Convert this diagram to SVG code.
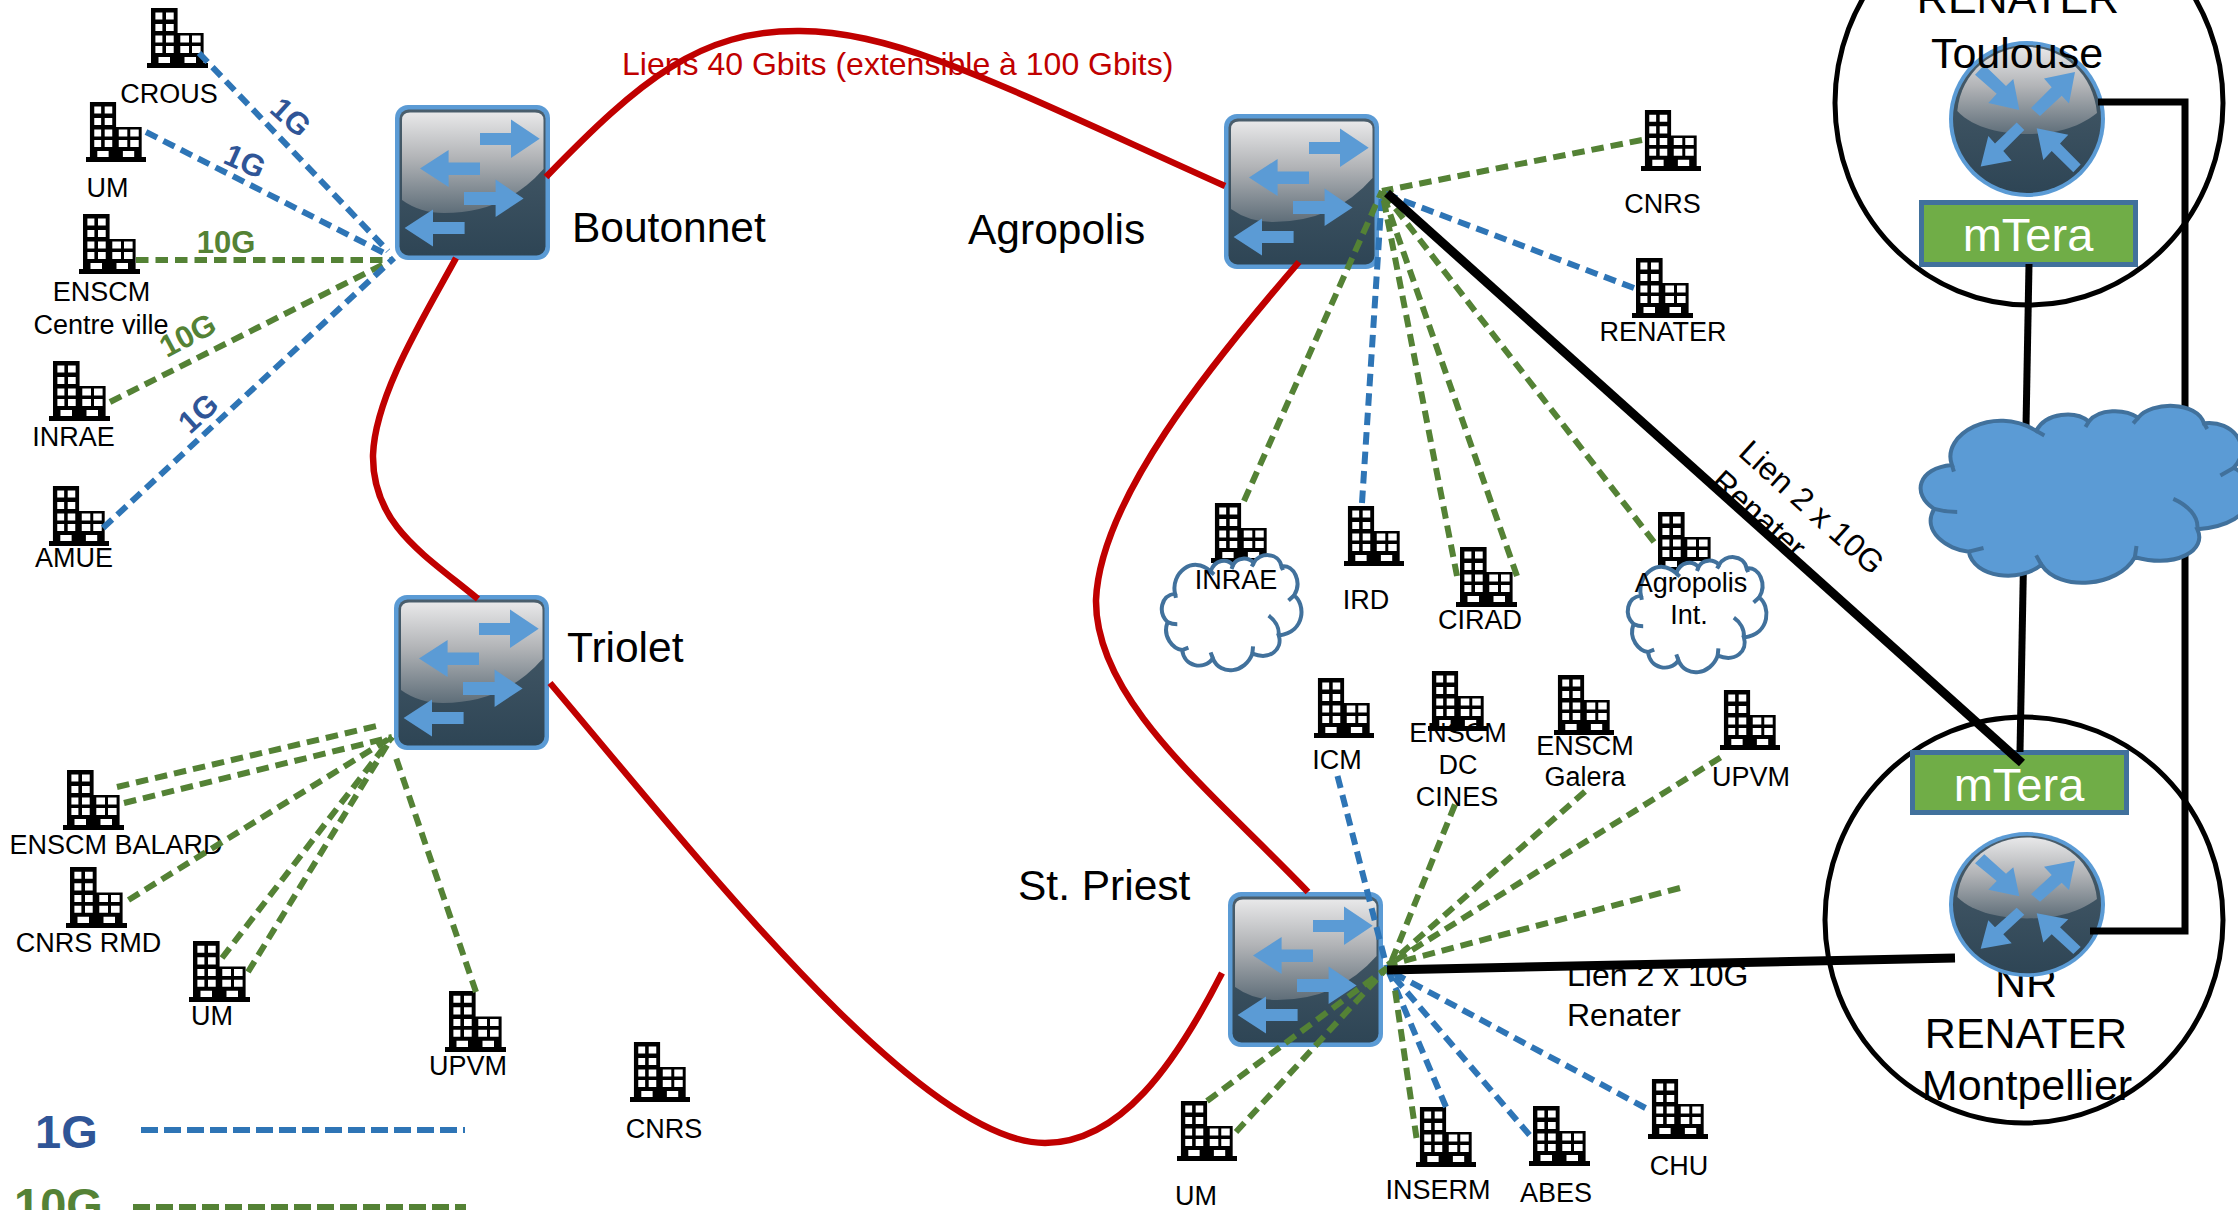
<svg xmlns="http://www.w3.org/2000/svg" xmlns:xlink="http://www.w3.org/1999/xlink" width="2238" height="1210" viewBox="0 0 2238 1210">
<style>
text{font-family:"Liberation Sans",Arial,sans-serif;fill:#000}
.l{font-size:27px;text-anchor:middle}
.big{font-size:42.5px}
.c{font-size:43px;text-anchor:middle}
.lk{font-size:32px}
.m{font-size:47px;text-anchor:middle;fill:#fff}
.red{font-size:32px;fill:#c00000}
.g1{font-size:31px;font-weight:bold;fill:#2f5597;text-anchor:middle}
.g10{font-size:31px;font-weight:bold;fill:#548235;text-anchor:middle}
.leg{font-size:47px;font-weight:bold}
.b{fill:none;stroke:#2e75b6;stroke-width:6;stroke-dasharray:12.5 7}
.g{fill:none;stroke:#548235;stroke-width:6;stroke-dasharray:12.5 7}
.r{fill:none;stroke:#c00000;stroke-width:6.5}
.k{fill:none;stroke:#000;stroke-width:7}
.ring{fill:none;stroke:#000;stroke-width:5}
.mt{fill:#70ad47;stroke:#41719c;stroke-width:5}
.cl{stroke:#41719c;stroke-width:4;vector-effect:non-scaling-stroke}
.cl2{fill:none;stroke:#41719c;stroke-width:4;vector-effect:non-scaling-stroke}
</style>
<defs>
<linearGradient id="gd" x1="0" y1="0" x2="0" y2="1"><stop offset="0" stop-color="#4a5e6c"/><stop offset="1" stop-color="#2e4555"/></linearGradient>
<linearGradient id="gl" x1="0" y1="0" x2="0" y2="1"><stop offset="0" stop-color="#e8e8e9"/><stop offset=".45" stop-color="#b2b4b7"/><stop offset="1" stop-color="#5f6e79"/></linearGradient>
<symbol id="bld" viewBox="0 0 61 60" preserveAspectRatio="none">
<path d="M0 55H4V0H30.6V25H56.6V55H61V60H0Z" fill="#000"/>
<path fill="#fff" d="M8.4 4.6h7v7h-7zM19 4.6h7.7v7H19zM8.4 16h7v7h-7zM19 16h7.7v7H19zM8.4 27.5h7v7h-7zM19 27.5h7.7v7H19zM8.4 38h7v7h-7zM19 38h7.7v7H19zM33.3 27.5h8.7v7h-8.7zM45 27.5h8.6v7H45zM33.3 38h8.7v7h-8.7zM45 38h8.6v7H45zM11.5 49h11.5v6H11.500zM37.500 49H49v6H37.500z"/>
</symbol>
<symbol id="sw" viewBox="0 0 155 155">
<rect x="0" y="0" width="155" height="155" rx="13" fill="#5b9bd5"/>
<rect x="4.500" y="4.500" width="146" height="146" rx="9" fill="url(#gd)"/>
<path d="M7 15Q7 7.500 15 7.500H140Q148.500 7.500 148.500 15V64Q110 108 49 108Q25 108 7 95Z" fill="url(#gl)"/>
<path fill="#5b9bd5" d="M85 28H116V14.500L144.700 33.700L116 53V40H85ZM85 57.400H53.600V45L25 63.500L53.600 82V70H85ZM69 87H100.600V74.600L128.600 93.400L100.600 112V100H69ZM69.600 117H38V104.500L9.600 123L38 141.600V129H69.600Z"/>
</symbol>
<symbol id="rt" viewBox="0 0 156 156" preserveAspectRatio="none">
<ellipse cx="78" cy="78" rx="78" ry="78" fill="#5b9bd5"/>
<ellipse cx="78" cy="78" rx="74" ry="74" fill="url(#gd)"/>
<path d="M8.300 70C12 30 45 6 78 6S144 30 148 72C125 90 100 93 78 93C55 93 25 88 8.300 70Z" fill="url(#gl)"/>
<path fill="#5b9bd5" d="M26 33.700L35.300 24L57 45L64.300 38L70.300 69L39.300 62L47.700 52.800ZM126 31L95 37.500L102.700 46.300L82 67L91 75L112.700 54.700L120 62.400ZM31.700 125.500L62.700 119.800L54.300 110L75.300 89L67.700 81.500L46 102.600L39.300 95ZM87.700 87.300L119.300 93.800L111 102.600L131.700 123.600L124.300 131.300L102.700 110L94.300 119Z"/>
</symbol>
<path id="cloud" vector-effect="non-scaling-stroke" d="M9.400 34.400C6 18 22 2 35 16C38 6 47 5 51 11C54 4 62 4 66 9C70 0 84 0 86 12C95 10 101 25 95 36C103 42 104 66 84 69C87 80 78 90 65 84C60 100 42 103 36.600 88C30 98 16 95 14.500 81C8 80 0 70 4 58C-3 50 -1 36 9.400 34.400Z"/>
<path id="cloudin" vector-effect="non-scaling-stroke" d="M35 16L37.500 18.500M51 11L50 14M66 9L64.500 12M86 12L87 15M95 36L91 40M84 69C84.500 62 81 56 76.700 52.600M65 84L65.500 78M36.600 88L35 83M14.500 81L19 79M4 58C6 59 9 59.700 11 59.700M9.400 34.400L10 38"/>
</defs>
<rect width="2238" height="1210" fill="#fff"/>

<g id="node-toulouse-ring"><ellipse class="ring" cx="2029" cy="103" rx="194" ry="202"/></g>
<g id="node-montpellier-ring"><ellipse class="ring" cx="2024" cy="920" rx="199" ry="203"/>
<text class="c" x="2026" y="997">NR</text><text class="c" x="2026" y="1048">RENATER</text><text class="c" x="2027" y="1100">Montpellier</text></g>

<g id="node-router-toulouse"><use xlink:href="#rt" href="#rt" x="1949" y="41" width="156" height="156"/></g>
<g id="node-toulouse-label"><text class="c" x="2018" y="13">RENATER</text><text class="c" x="2017" y="68">Toulouse</text></g>
<g id="node-router-montpellier"><use xlink:href="#rt" href="#rt" x="1949" y="832" width="156" height="145"/></g>
<g id="node-mtera-toulouse"><rect class="mt" x="1921.500" y="202.500" width="214" height="62"/><text class="m" x="2028" y="251">mTera</text></g>
<g id="node-mtera-montpellier"><rect class="mt" x="1912.500" y="752.500" width="214" height="60"/><text class="m" x="2019" y="801">mTera</text></g>

<g id="node-boutonnet"><use href="#sw" x="395" y="105" width="155" height="155"/><text class="big" x="572" y="242">Boutonnet</text></g>
<g id="node-triolet"><use href="#sw" x="394" y="595" width="155" height="155"/><text class="big" x="567" y="662">Triolet</text></g>
<g id="node-agropolis"><use href="#sw" x="1224" y="114" width="155" height="155"/><text class="big" x="968" y="244">Agropolis</text></g>
<g id="node-stpriest"><use href="#sw" x="1228" y="892" width="155" height="155"/><text class="big" x="1018" y="900">St. Priest</text></g>

<g id="node-crous"><use href="#bld" x="147" y="8" width="61" height="60"/><text class="l" x="169" y="103">CROUS</text></g>
<g id="node-um1"><use href="#bld" x="86" y="102" width="60" height="60"/><text class="l" x="107.500" y="197">UM</text></g>
<g id="node-enscm-cv"><use href="#bld" x="79" y="214" width="61" height="60"/><text class="l" x="101.500" y="301">ENSCM</text><text class="l" x="101" y="334">Centre ville</text></g>
<g id="node-inrae1"><use href="#bld" x="49" y="361" width="61" height="60"/><text class="l" x="73.500" y="446">INRAE</text></g>
<g id="node-amue"><use href="#bld" x="49" y="486" width="60" height="60"/><text class="l" x="74" y="567">AMUE</text></g>
<g id="node-cnrs1"><use href="#bld" x="1641" y="110" width="60" height="61"/><text class="l" x="1662.500" y="213">CNRS</text></g>
<g id="node-renater"><use href="#bld" x="1632" y="258" width="61" height="60"/><text class="l" x="1663" y="341">RENATER</text></g>
<g id="node-inrae2"><use href="#bld" x="1211" y="503" width="60" height="60"/>
<use href="#cloud" class="cl" fill="#fff" transform="translate(1162 552) scale(1.39 1.21)"/><use href="#cloudin" class="cl2" transform="translate(1162 552) scale(1.39 1.21)"/><text class="l" x="1236" y="589">INRAE</text></g>
<g id="node-ird"><use href="#bld" x="1344" y="506" width="60" height="60"/><text class="l" x="1366" y="609">IRD</text></g>
<g id="node-cirad"><use href="#bld" x="1456" y="547" width="61" height="60"/><text class="l" x="1480" y="629">CIRAD</text></g>
<g id="node-agropolis-int"><use href="#bld" x="1654" y="512" width="61" height="60"/>
<use href="#cloud" class="cl" fill="#fff" transform="translate(1628 554) scale(1.38 1.21)"/><use href="#cloudin" class="cl2" transform="translate(1628 554) scale(1.38 1.21)"/><text class="l" x="1691" y="592">Agropolis</text><text class="l" x="1689" y="624">Int.</text></g>
<g id="node-icm"><use href="#bld" x="1314" y="678" width="60" height="60"/><text class="l" x="1337" y="769">ICM</text></g>
<g id="node-enscm-dc"><use href="#bld" x="1428" y="671" width="60" height="60"/><text class="l" x="1458" y="742">ENSCM</text><text class="l" x="1458" y="774">DC</text><text class="l" x="1457" y="806">CINES</text></g>
<g id="node-enscm-galera"><use href="#bld" x="1554" y="675" width="60" height="60"/><text class="l" x="1585" y="755">ENSCM</text><text class="l" x="1585" y="786">Galera</text></g>
<g id="node-upvm2"><use href="#bld" x="1720" y="690" width="60" height="60"/><text class="l" x="1751" y="786">UPVM</text></g>
<g id="node-um3"><use href="#bld" x="1177" y="1101" width="60" height="60"/><text class="l" x="1196" y="1205">UM</text></g>
<g id="node-inserm"><use href="#bld" x="1416" y="1107" width="60" height="60"/><text class="l" x="1438" y="1199">INSERM</text></g>
<g id="node-abes"><use href="#bld" x="1529" y="1106" width="61" height="60"/><text class="l" x="1556" y="1202">ABES</text></g>
<g id="node-chu"><use href="#bld" x="1648" y="1079" width="60" height="60"/><text class="l" x="1679" y="1175">CHU</text></g>
<g id="node-balard"><use href="#bld" x="63" y="770" width="61" height="60"/><text class="l" x="116" y="854">ENSCM BALARD</text></g>
<g id="node-cnrs-rmd"><use href="#bld" x="66" y="867" width="61" height="61"/><text class="l" x="88.500" y="952">CNRS RMD</text></g>
<g id="node-um2"><use href="#bld" x="189" y="941" width="61" height="61"/><text class="l" x="212" y="1025">UM</text></g>
<g id="node-upvm1"><use href="#bld" x="445" y="991" width="61" height="61"/><text class="l" x="468" y="1075">UPVM</text></g>
<g id="node-cnrs2"><use href="#bld" x="630" y="1042" width="60" height="60"/><text class="l" x="664" y="1138">CNRS</text></g>

<g id="connectors">
<path class="r" d="M546 177C640 80 700 30 800 31C900 32 1000 85 1225 186"/>
<path class="r" d="M456 258C425 315 375 395 373 455C372 525 425 555 478 599"/>
<path class="r" d="M1299 262C1210 365 1100 500 1096 600C1095 700 1210 790 1308 892"/>
<path class="r" d="M550 683C700 860 920 1143 1045 1143C1120 1143 1175 1065 1222 973"/>

<path class="b" d="M199 53L388 251"/>
<path class="b" d="M146 132L388 255"/>
<path class="g" d="M136 260H392"/>
<path class="g" d="M110 402L388 262"/>
<path class="b" d="M103 528L394 258"/>

<path class="g" d="M1642 140L1382 191"/>
<path class="b" d="M1634 288L1383 193"/>
<path class="g" d="M1244 501L1382 191"/>
<path class="b" d="M1362 503L1382 193"/>
<path class="g" d="M1457 576L1382 191"/>
<path class="g" d="M1517 576L1382 191"/>
<path class="g" d="M1654 542L1382 191"/>

<path class="b" d="M1337.500 776L1387 968"/>
<path class="g" d="M1455 804.500L1390 965"/>
<path class="g" d="M1585 791.500L1388 965"/>
<path class="g" d="M1720.500 757.500L1388 965"/>
<path class="g" d="M1680 888L1388 965"/>
<path class="b" d="M1645.500 1108L1388 970"/>
<path class="b" d="M1529.500 1135L1388 970"/>
<path class="b" d="M1446 1107L1388 970"/>
<path class="g" d="M1416.500 1138L1395 990"/>
<path class="g" d="M1207 1101L1387 968"/>
<path class="g" d="M1236 1132L1387 968"/>

<path class="g" d="M117 787L381 725"/>
<path class="g" d="M124 803L392 737"/>
<path class="g" d="M128.500 900L392 737"/>
<path class="g" d="M222 958L392 737"/>
<path class="g" d="M248 972L392 737"/>
<path class="g" d="M476 992L395 755"/>

<path class="k" d="M1387 193L2022 763" style="stroke-width:9"/>
<path class="k" d="M1387 970L1955 958" style="stroke-width:9"/>
<path class="k" d="M2029 264L2020 752"/>
<path class="k" d="M2098 102H2185V931H2090"/>
</g>

<g id="node-cloud"><use href="#cloud" class="cl" fill="#5b9bd5" transform="translate(1921 401) scale(3.29 1.86)"/><use href="#cloudin" class="cl2" transform="translate(1921 401) scale(3.29 1.86)"/></g>

<g id="connector-labels">
<text class="red" x="622" y="75">Liens 40 Gbits (extensible à 100 Gbits)</text>
<text class="g1" transform="translate(291 117) rotate(42)" dy=".35em">1G</text>
<text class="g1" transform="translate(245 161) rotate(24)" dy=".35em">1G</text>
<text class="g10" x="226" y="253">10G</text>
<text class="g10" transform="translate(187.500 335) rotate(-28)" dy=".35em">10G</text>
<text class="g1" transform="translate(198 413) rotate(-42)" dy=".35em">1G</text>
<text class="lk" text-anchor="middle" transform="translate(1812 507) rotate(42)" dy=".35em">Lien 2 x 10G</text>
<text class="lk" text-anchor="middle" transform="translate(1759 514) rotate(42)" dy=".35em">Renater</text>
<text class="lk" x="1567" y="986">Lien 2 x 10G</text>
<text class="lk" x="1567" y="1026">Renater</text>
</g>

<g id="legend">
<text class="leg" x="35" y="1148" style="fill:#2f5597">1G</text>
<path class="b" d="M141 1130H465" style="stroke-dasharray:17 6"/>
<text class="leg" x="14" y="1221" style="fill:#548235">10G</text>
<path class="g" d="M133 1207H466" style="stroke-dasharray:17 6"/>
</g>
</svg>
